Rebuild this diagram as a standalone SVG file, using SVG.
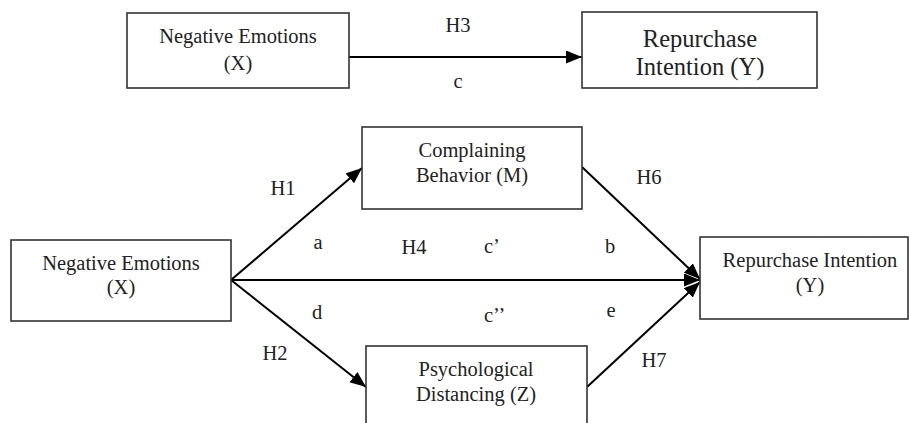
<svg xmlns="http://www.w3.org/2000/svg" width="909" height="423" viewBox="0 0 909 423">
<style>
.box{fill:#fff;stroke:#333;stroke-width:1.6}
.t{font-family:"Liberation Serif","Times New Roman",serif;font-size:20.5px;fill:#222;text-anchor:middle}
.big{font-size:24.5px}
.ln{stroke:#000;stroke-width:2;fill:none}
</style>
<defs>
<marker id="ah" markerUnits="userSpaceOnUse" markerWidth="18" markerHeight="14" refX="16" refY="6.5" orient="auto">
<path d="M0,0 L16,6.5 L0,13 z" fill="#000"/>
</marker>
</defs>
<rect width="909" height="423" fill="#fff"/>
<g id="connectors">
<line class="ln" x1="349" y1="57" x2="582" y2="57" marker-end="url(#ah)"/>
<line class="ln" x1="231" y1="280" x2="362" y2="168" marker-end="url(#ah)"/>
<line class="ln" x1="231" y1="280" x2="366" y2="387" marker-end="url(#ah)"/>
<line class="ln" x1="231" y1="280" x2="700" y2="280" marker-end="url(#ah)"/>
<line class="ln" x1="582" y1="167" x2="700" y2="279" marker-end="url(#ah)"/>
<line class="ln" x1="587" y1="387" x2="700" y2="282" marker-end="url(#ah)"/>
</g>
<g id="node-x-top">
<rect class="box" x="127" y="13" width="222" height="75"/>
<text class="t" x="238" y="43">Negative Emotions</text>
<text class="t" x="238" y="70">(X)</text>
</g>
<g id="node-y-top">
<rect class="box" x="582" y="12" width="235" height="76"/>
<text class="t big" x="700" y="47">Repurchase</text>
<text class="t big" x="700" y="75">Intention (Y)</text>
</g>
<g id="node-x">
<rect class="box" x="11" y="240" width="220" height="81"/>
<text class="t" x="121" y="270">Negative Emotions</text>
<text class="t" x="121" y="294">(X)</text>
</g>
<g id="node-m">
<rect class="box" x="362" y="127" width="220" height="82"/>
<text class="t" x="472" y="157">Complaining</text>
<text class="t" x="472" y="182">Behavior (M)</text>
</g>
<g id="node-z">
<rect class="box" x="366" y="346" width="221" height="90"/>
<text class="t" x="476" y="376">Psychological</text>
<text class="t" x="476" y="401">Distancing (Z)</text>
</g>
<g id="node-y">
<rect class="box" x="700" y="237" width="208" height="82"/>
<text class="t" x="810" y="267">Repurchase Intention</text>
<text class="t" x="810" y="292">(Y)</text>
</g>
<g id="labels">
<text class="t" x="458" y="32">H3</text>
<text class="t" x="458" y="88">c</text>
<text class="t" x="283" y="195">H1</text>
<text class="t" x="318" y="249">a</text>
<text class="t" x="414" y="254">H4</text>
<text class="t" x="484" y="253" style="text-anchor:start">c’</text>
<text class="t" x="610" y="253">b</text>
<text class="t" x="317" y="319">d</text>
<text class="t" x="275" y="360">H2</text>
<text class="t" x="484" y="322" style="text-anchor:start">c’’</text>
<text class="t" x="611" y="317">e</text>
<text class="t" x="649" y="184">H6</text>
<text class="t" x="654" y="367">H7</text>
</g>
</svg>
